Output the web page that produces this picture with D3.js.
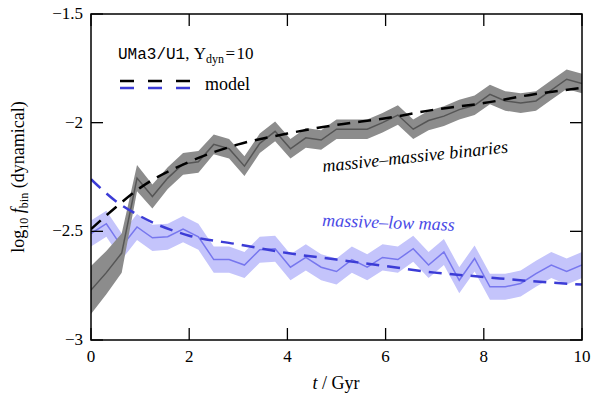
<!DOCTYPE html><html><head><meta charset="utf-8"><script src="https://cdn.jsdelivr.net/npm/d3@7"></script>
<style>body{margin:0;background:#fff}text{font-family:"Liberation Serif","DejaVu Serif",serif}</style></head><body>
<svg id="c" width="602" height="404"></svg>
<script>
const mmVals=[-2.77,-2.69,-2.60,-2.255,-2.34,-2.255,-2.19,-2.18,-2.10,-2.12,-2.20,-2.095,-2.04,-2.12,-2.07,-2.08,-2.03,-2.03,-2.03,-2.00,-1.965,-2.03,-1.99,-1.97,-1.94,-1.92,-1.87,-1.90,-1.91,-1.90,-1.85,-1.80,-1.82];
const mmErr=[0.11,0.10,0.09,0.06,0.055,0.05,0.05,0.05,0.045,0.045,0.045,0.045,0.045,0.045,0.045,0.045,0.045,0.045,0.045,0.045,0.045,0.045,0.045,0.045,0.045,0.045,0.045,0.045,0.045,0.045,0.045,0.045,0.045];
const mlVals=[-2.51,-2.465,-2.57,-2.48,-2.53,-2.525,-2.49,-2.525,-2.63,-2.63,-2.655,-2.585,-2.58,-2.665,-2.62,-2.665,-2.685,-2.63,-2.665,-2.62,-2.63,-2.58,-2.655,-2.595,-2.725,-2.625,-2.755,-2.755,-2.74,-2.695,-2.655,-2.685,-2.655];
const mlErr=0.06;
const modelT=[0,0.5,1,2,3,4,5,6,7,8,9,10];
const modelMM=[-2.49,-2.39,-2.30,-2.18,-2.10,-2.05,-2.01,-1.98,-1.94,-1.91,-1.87,-1.84];
const modelML=[-2.26,-2.36,-2.43,-2.52,-2.56,-2.60,-2.63,-2.66,-2.69,-2.71,-2.73,-2.745];
const xTicks=[0,2,4,6,8,10], yTicks=[-1.5,-2,-2.5,-3];
const times=mmVals.map((_,i)=>i*10/32);

const svg=d3.select("#c");
const L=91,R=582,T=14,B=340;
const x=d3.scaleLinear().domain([0,10]).range([L,R]);
const y=d3.scaleLinear().domain([-3,-1.5]).range([B,T]);
const g=svg.append("g");
const area=(v,e)=>d3.area().x((d,i)=>x(times[i])).y0((d,i)=>y(v[i]-(typeof e==="number"?e:e[i]))).y1((d,i)=>y(v[i]+(typeof e==="number"?e:e[i])));
const line=d3.line().x((d,i)=>x(times[i])).y(d=>y(d));
const mline=d3.line().x((d,i)=>x(modelT[i])).y(d=>y(d)).curve(d3.curveMonotoneX);
svg.append("clipPath").attr("id","cl").append("rect").attr("x",L).attr("y",T).attr("width",R-L).attr("height",B-T);
const p=g.append("g").attr("clip-path","url(#cl)");
p.append("path").datum(mlVals).attr("d",area(mlVals,mlErr)).attr("fill","#c4c4fb");
p.append("path").datum(mlVals).attr("d",line).attr("fill","none").attr("stroke","#7777ee").attr("stroke-width",1.5);
p.append("path").datum(mmVals).attr("d",area(mmVals,mmErr)).attr("fill","#8c8c8c");
p.append("path").datum(mmVals).attr("d",line).attr("fill","none").attr("stroke","#555").attr("stroke-width",1.5);
p.append("path").datum(modelMM).attr("d",mline).attr("fill","none").attr("stroke","#000").attr("stroke-width",2.5).attr("stroke-dasharray","13,8");
p.append("path").datum(modelML).attr("d",mline).attr("fill","none").attr("stroke","#3c3cd6").attr("stroke-width",2.5).attr("stroke-dasharray","13,8");
g.append("rect").attr("x",L).attr("y",T).attr("width",R-L).attr("height",B-T).attr("fill","none").attr("stroke","#000").attr("stroke-width",1.5);
xTicks.forEach(t=>{g.append("line").attr("x1",x(t)).attr("x2",x(t)).attr("y1",B).attr("y2",B-12).attr("stroke","#000").attr("stroke-width",1.3);
 g.append("line").attr("x1",x(t)).attr("x2",x(t)).attr("y1",T).attr("y2",T+12).attr("stroke","#000").attr("stroke-width",1.3);
 g.append("text").attr("x",x(t)).attr("y",B+22).attr("text-anchor","middle").attr("font-size",17).text(t);});
yTicks.forEach(t=>{g.append("line").attr("x1",L).attr("x2",L+12).attr("y1",y(t)).attr("y2",y(t)).attr("stroke","#000").attr("stroke-width",1.3);
 g.append("line").attr("x1",R).attr("x2",R-12).attr("y1",y(t)).attr("y2",y(t)).attr("stroke","#000").attr("stroke-width",1.3);
 g.append("text").attr("x",L-8).attr("y",y(t)+5).attr("text-anchor","end").attr("font-size",17).text(String(t).replace("-","\u2212"));});
const xl=svg.append("text").attr("x",336).attr("y",389).attr("text-anchor","middle").attr("font-size",18);
xl.append("tspan").attr("font-style","italic").text("t");xl.append("tspan").text(" / Gyr");
const yl=svg.append("text").attr("transform","translate(24,177) rotate(-90)").attr("text-anchor","middle").attr("font-size",18);
yl.append("tspan").text("log");yl.append("tspan").attr("font-size",12).attr("dy",4).text("10");
yl.append("tspan").attr("dy",-4).attr("font-style","italic").text(" f");yl.append("tspan").attr("font-size",12).attr("dy",4).text("bin");
yl.append("tspan").attr("dy",-4).text(" (dynamical)");
const t1=svg.append("text").attr("x",118).attr("y",59).attr("font-size",17);
t1.append("tspan").attr("font-family","Liberation Mono").attr("font-size",16).text("UMa3/U1");
t1.append("tspan").text(", \u03a5");t1.append("tspan").attr("font-size",12).attr("dy",4).text("dyn");
t1.append("tspan").attr("dy",-4).text("\u200a=\u200a10");
svg.append("line").attr("x1",120).attr("x2",192).attr("y1",81).attr("y2",81).attr("stroke","#000").attr("stroke-width",2.5).attr("stroke-dasharray","14,14");
svg.append("line").attr("x1",120).attr("x2",192).attr("y1",88).attr("y2",88).attr("stroke","#3c3cd6").attr("stroke-width",2.5).attr("stroke-dasharray","14,14");
svg.append("text").attr("x",205).attr("y",90).attr("font-size",18).text("model");
svg.append("text").attr("transform","translate(323,172) rotate(-6)").attr("font-size",18).attr("font-style","italic").text("massive\u2013massive binaries");
svg.append("text").attr("transform","translate(322,226) rotate(2)").attr("font-size",18).attr("font-style","italic").attr("fill","#4a4ae6").text("massive\u2013low mass");
</script></body></html>
